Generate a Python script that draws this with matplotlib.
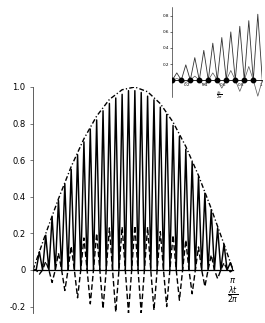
import numpy as np
import matplotlib
matplotlib.use("Agg")
import matplotlib.pyplot as plt

plt.rcParams['lines.scale_dashes'] = False

# ---------------- main chart data ----------------
# solid curve: peaks at t = 0.1 .. 3.1, zeros halfway between
solid_peak_t = np.round(np.arange(1, 32) * 0.1, 2)
solid_peak_v = [0.10, 0.19, 0.29, 0.38, 0.47, 0.55, 0.63, 0.70, 0.77, 0.82,
                0.87, 0.91, 0.94, 0.96, 0.98, 0.98, 0.97, 0.95, 0.93, 0.89,
                0.85, 0.79, 0.73, 0.66, 0.59, 0.51, 0.42, 0.33, 0.23, 0.14, 0.04]
solid_zero_t = np.round(np.arange(0, 31) * 0.1 + 0.05, 2)

# dashed curve: extrema at t = 0.1 .. 3.1, zeros halfway between
dash_ext_t = solid_peak_t
dash_ext_v = [-0.023, 0.047, -0.068, 0.092, -0.112, 0.13, -0.152, 0.175, -0.185, 0.20,
              -0.212, 0.23, -0.23, 0.235, -0.235, 0.242, -0.235, 0.235, -0.22, 0.21,
              -0.20, 0.19, -0.165, 0.164, -0.13, 0.126, -0.09, 0.082, -0.047, 0.04, -0.01]

# envelope (dash-dot)
env_t = [0, 0.2, 0.4, 0.6, 0.8, 1.0, 1.2, 1.4, 1.6, 1.8, 2.0, 2.2, 2.4, 2.6, 2.8, 3.0, np.pi]
env_v = [0, 0.199, 0.389, 0.565, 0.717, 0.841, 0.932, 0.985, 1.0, 0.974, 0.909,
         0.808, 0.675, 0.516, 0.335, 0.141, 0]

yticks = [-0.2, 0, 0.2, 0.4, 0.6, 0.8, 1.0]
ytick_labels = ['-0.2', '0', '0.2', '0.4', '0.6', '0.8', '1.0']

# ---------------- inset data ----------------
ins_peak_x = np.round(np.arange(0, 10) * 0.1 + 0.05, 2)
ins_peak_v = [0.09, 0.19, 0.28, 0.37, 0.46, 0.53, 0.60, 0.67, 0.74, 0.82]
ins_zero_x = np.round(np.arange(0, 11) * 0.1, 2)
ins_gray_v = [0.02, -0.03, 0.05, -0.06, 0.09, -0.10, 0.12, -0.14, 0.17, -0.20]
ins_dot_x = np.round(np.arange(0, 10) * 0.1, 2)
ins_xticks = [0.2, 0.4, 0.6, 0.8, 1.0]
ins_xtick_labels = ['0.2', '0.4', '0.6', '0.8', '1']
ins_yticks = [0.2, 0.4, 0.6, 0.8]
ins_ytick_labels = ['0.2', '0.4', '0.6', '0.8']


def interleave(zt, pt, pv, start=None, end=None):
    pts = [(z, 0.0) for z in zt] + list(zip(pt, pv))
    if start is not None:
        pts.append(start)
    if end is not None:
        pts.append(end)
    pts.sort(key=lambda p: p[0])
    return [p[0] for p in pts], [p[1] for p in pts]


fig = plt.figure(figsize=(2.65, 3.23), dpi=100)
ax = fig.add_axes([33 / 265, 10 / 323, 200 / 265, 226 / 323])

st, sv = interleave(solid_zero_t, solid_peak_t, solid_peak_v, start=(0, 0), end=(np.pi, 0))
dt, dv = interleave(solid_zero_t, dash_ext_t, dash_ext_v, start=(0, 0), end=(np.pi, 0))

ax.plot(dt, dv, color='black', lw=1.0, dashes=(4.0, 2.0))
ax.plot(st, sv, color='black', lw=1.05)
ax.plot(env_t, env_v, color='black', lw=1.0, dashes=(3.5, 1.6, 0.9, 1.6))

ax.set_xlim(0, np.pi)
ax.set_ylim(-0.235, 1.0)
for s in ['top', 'right']:
    ax.spines[s].set_visible(False)
ax.spines['bottom'].set_position(('data', 0))
ax.spines['left'].set_linewidth(0.6)
ax.spines['left'].set_color('#444444')
ax.spines['bottom'].set_linewidth(0.9)
ax.set_xticks([])
ax.set_yticks(yticks)
ax.set_yticklabels(ytick_labels, fontsize=6, family='DejaVu Sans')
ax.tick_params(axis='y', length=2.5, width=0.5, pad=3, color='#444444')
ax.text(np.pi, -0.035, r'$\pi$', ha='center', va='top', fontsize=6)
ax.text(np.pi, -0.14, r'$\frac{\lambda t}{2\pi}$', ha='center', va='center', fontsize=8)

# ---------------- inset ----------------
ia = fig.add_axes([172.3 / 265, (323 - 97) / 323, 90 / 265, 90 / 323])
it, iv = interleave(ins_zero_x, ins_peak_x, ins_peak_v)
ia.plot(it, iv, color='#333333', lw=0.6)
gt, gv = interleave(ins_zero_x, ins_peak_x, ins_gray_v)
ia.plot(gt, gv, color='#555555', lw=0.5)
ia.plot(ins_dot_x, [0] * len(ins_dot_x), 'o', color='black', ms=3.2)
ia.set_xlim(0, 1.0)
ia.set_ylim(-0.21, 0.91)
for s in ['top', 'right']:
    ia.spines[s].set_visible(False)
ia.spines['bottom'].set_position(('data', 0))
ia.spines['left'].set_linewidth(0.4)
ia.spines['bottom'].set_linewidth(0.6)
ia.set_xticks(ins_xticks)
ia.set_xticklabels(ins_xtick_labels, fontsize=3, ha='right')
ia.set_yticks(ins_yticks)
ia.set_yticklabels(ins_ytick_labels, fontsize=3)
ia.tick_params(length=1.2, width=0.4, pad=1)
ia.text(0.53, -0.19, r'$\frac{\lambda t}{2\pi}$', ha='center', va='center', fontsize=4)
ia.patch.set_alpha(0)

fig.savefig('out.png', dpi=100)
